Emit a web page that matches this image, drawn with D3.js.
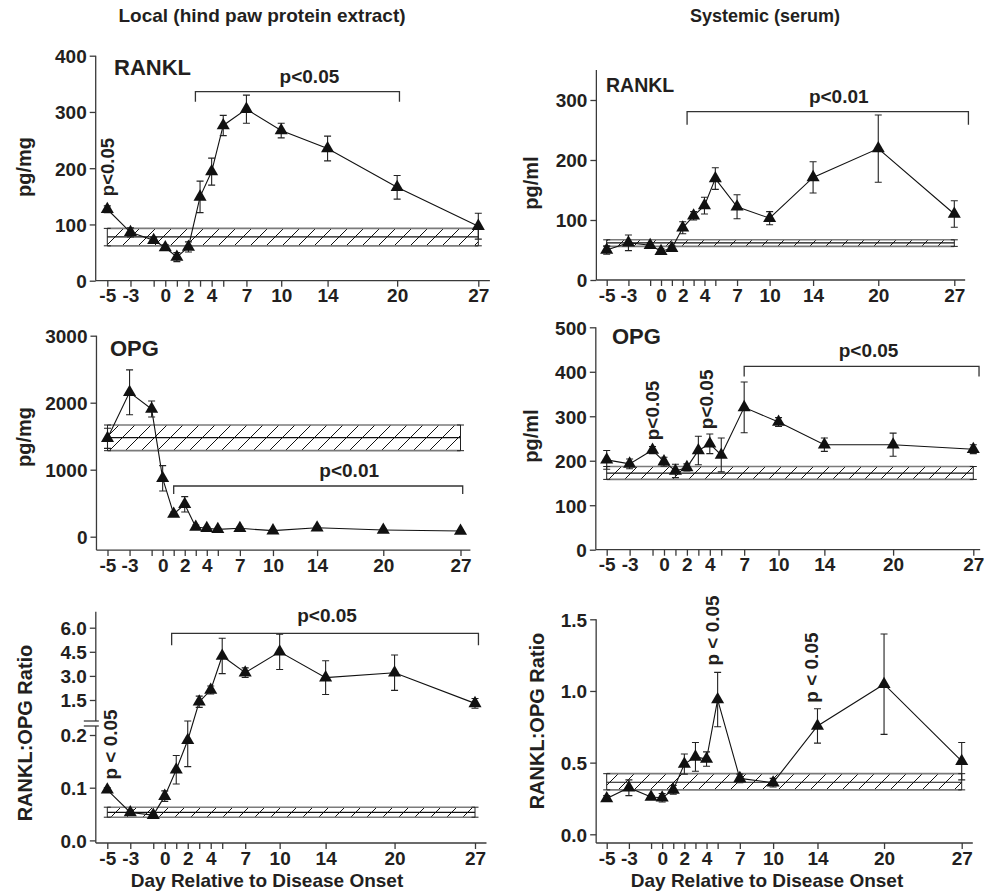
<!DOCTYPE html>
<html><head><meta charset="utf-8">
<script src="https://cdn.jsdelivr.net/npm/d3@7"></script>
<style>
body{margin:0;background:#fff;}
svg text{font-family:"Liberation Sans",Arial,Helvetica,sans-serif;font-weight:bold;}
</style></head><body>
<svg id="c" width="992" height="896"></svg>
<script>
// ---------- data ----------
const days = [-5,-3,-1,0,1,2,3,4,5,7,10,14,20,27];
const dayLabels = [-5,-3,0,2,4,7,10,14,20,27];

const rankLocal    = [127,86,72,59,42,60,149,194,276,305,267,235,166,97];
const rankLocalErr = [6,8,5,5,8,9,28,24,18,25,13,22,21,23];
const rankLocalBand = [62,78,93];
const rankLocalTicks = [0,100,200,300,400];

const rankSerum    = [50,62,58,48,53,87,107,124,169,122,103,171,219,110];
const rankSerumErr = [7,13,4,4,4,10,7,14,18,20,11,26,56,22];
const rankSerumBand = [56,62,67];
const rankSerumTicks = [0,100,200,300];

const opgLocal    = [1469,2155,1906,871,339,483,145,125,110,125,90,134,100,85];
const opgLocalErr = [150,335,120,190,30,115,30,20,15,20,15,20,15,15];
const opgLocalBand = [1284,1478,1667];
const opgLocalTicks = [0,1000,2000,3000];

const opgSerum    = [202,193,224,198,177,185,223,238,213,320,287,236,236,226];
const opgSerumErr = [21,11,8,10,15,8,32,22,38,57,10,15,26,10];
const opgSerumBand = [158,172,187];
const opgSerumTicks = [0,100,200,300,400,500];

const ratioLocal    = [0.096,0.053,0.048,0.084,0.134,0.19,1.39,2.12,4.24,3.2,4.5,2.89,3.2,1.29];
const ratioLocalErr = [0.004,0.005,0.004,0.01,0.027,0.05,0.35,0.25,1.1,0.3,1.1,1.05,1.1,0.3];
const ratioLocalBand = [0.044,0.053,0.063];
const ratioLocalTicksLow = [0.0,0.1,0.2];
const ratioLocalTicksHigh = [1.5,3.0,4.5,6.0];

const ratioSerum    = [0.25,0.325,0.26,0.255,0.31,0.49,0.54,0.525,0.94,0.39,0.36,0.756,1.047,0.51];
const ratioSerumErr = [0.02,0.055,0.01,0.03,0.03,0.07,0.1,0.05,0.19,0.03,0.03,0.12,0.35,0.13];
const ratioSerumBand = [0.31,0.363,0.423];
const ratioSerumTicks = [0.0,0.5,1.0,1.5];

// ---------- drawing ----------
const svg = d3.select("#c");
const INK = "#231f20", AX = "#3a3a3a", FONT = "'Liberation Sans', Arial, Helvetica, sans-serif";
svg.append("defs").append("pattern").attr("id","hatch")
  .attr("patternUnits","userSpaceOnUse").attr("width",16).attr("height",16)
  .append("path").attr("d","M-4,4 L4,-4 M0,16 L16,0 M12,20 L20,12")
  .attr("stroke","#111").attr("stroke-width",1);

function txt(sel){ return sel.attr("font-family",FONT).attr("font-weight","bold").attr("fill",INK); }

function panel(c){
  const g = svg.append("g");
  const x = d3.scaleLinear().domain([-5,27]).range(c.xr);
  const xa = x.copy().domain(c.xd).range([x(c.xd[0]), x(c.xd[1])]);
  const y = c.y;
  const yBase = c.xAxisY;

  // band
  const b = c.band;
  g.append("rect").attr("x",x(-5)).attr("width",x(27)-x(-5))
    .attr("y",y(b[2])).attr("height",y(b[0])-y(b[2])).attr("fill","url(#hatch)");
  [[b[0],"#7a7a7a",1.6],[b[2],"#7a7a7a",1.6],[b[1],"#111",1.2]].forEach(([v,col,w])=>{
    g.append("line").attr("x1",x(-5)).attr("x2",x(27)).attr("y1",y(v)).attr("y2",y(v))
      .attr("stroke",col).attr("stroke-width",w);
  });
  [-5,27].forEach(d=>{
    const px=x(d);
    g.append("path").attr("d",`M${px},${y(b[0])}V${y(b[2])}M${px-3.5},${y(b[0])}h7M${px-3.5},${y(b[2])}h7`)
      .attr("stroke","#222").attr("stroke-width",1).attr("fill","none");
  });

  // axes
  const xAxis = d3.axisBottom(xa).tickValues(days).tickSize(6).tickSizeOuter(0)
    .tickFormat(d=>dayLabels.includes(d)?d:"");
  const gx = g.append("g").attr("transform",`translate(0,${yBase})`).call(xAxis);
  gx.attr("font-family",null).attr("font-size",null);
  txt(gx.selectAll("text")).attr("font-size",19).attr("dy","0.72em").attr("y",8);
  gx.selectAll("path,line").attr("stroke",AX).attr("stroke-width",1.3);
  gx.select(".domain").attr("d",`M${xa.range()[0]},0H${xa.range()[1]}`);

  c.yAxes.forEach(a=>{
    const ax = d3.axisLeft(a.scale).tickValues(a.ticks).tickSize(6).tickSizeOuter(0).tickFormat(a.fmt||(d=>d));
    const gy = g.append("g").attr("transform",`translate(${xa.range()[0]},0)`).call(ax);
    gy.attr("font-family",null).attr("font-size",null);
    txt(gy.selectAll("text")).attr("font-size",19).attr("x",-9).attr("dy","0.36em");
    gy.selectAll("path,line").attr("stroke",AX).attr("stroke-width",1.3);
    gy.select(".domain").attr("d",`M0,${a.from}V${a.to}`);
  });
  if(c.breakMarks){
    c.breakMarks.forEach(py=>{
      g.append("line").attr("x1",xa.range()[0]-12).attr("x2",xa.range()[0]+3).attr("y1",py).attr("y2",py)
        .attr("stroke",AX).attr("stroke-width",1.3);
    });
  }

  // series line
  const pts = days.map((d,i)=>[x(d), y(c.vals[i])]);
  g.append("path").attr("d",d3.line()(pts)).attr("fill","none").attr("stroke","#111").attr("stroke-width",1.1);
  // error bars
  days.forEach((d,i)=>{
    const px=x(d), v=c.vals[i], e=c.errs[i];
    const top=y(c.clipTop?Math.min(v+e, c.clipTop(v)):v+e), bot=y(v-e);
    g.append("path").attr("d",`M${px},${bot}V${top}M${px-3.5},${top}h7M${px-3.5},${bot}h7`)
      .attr("stroke","#222").attr("stroke-width",1.1).attr("fill","none");
  });
  g.selectAll(".tri").data(days).enter().append("path")
    .attr("transform",(d,i)=>`translate(${x(d)},${y(c.vals[i])})`)
    .attr("d",d3.symbol().type(d3.symbolTriangle).size(74)()).attr("fill","#111");

  // brackets
  (c.brackets||[]).forEach(br=>{
    const py=y(br.v), x1=x(br.d0), x2=x(br.d1);
    g.append("path").attr("d",`M${x1},${py+br.tick}V${py}H${x2}V${py+br.tick}`)
      .attr("fill","none").attr("stroke","#333").attr("stroke-width",1.3);
    txt(g.append("text")).attr("x",(x1+x2)/2+(br.dx||0)).attr("y",py-br.dy).attr("text-anchor","middle")
      .attr("font-size",19).text(br.text);
  });
  // vertical labels
  (c.vlabels||[]).forEach(vl=>{
    txt(g.append("text")).attr("transform",`translate(${x(vl.d)+vl.dx},${y(vl.v)}) rotate(-90)`)
      .attr("text-anchor","middle").attr("font-size",vl.fs||19).text(vl.text);
  });
  // panel name
  if(c.name) txt(g.append("text")).attr("x",c.name.x).attr("y",c.name.y).attr("font-size",c.name.fs).text(c.name.t);
  // y label
  txt(g.append("text")).attr("transform",`translate(${c.ylab.x},${c.ylab.y}) rotate(-90)`)
    .attr("text-anchor","middle").attr("font-size",c.ylab.fs||20).text(c.ylab.t);
}

// top-left
{
  const y = d3.scaleLinear().domain([0,400]).range([280.7,55.7]);
  panel({xr:[107.3,478.3], xd:[-6,28], y, xAxisY:y(0), vals:rankLocal, errs:rankLocalErr, band:rankLocalBand,
    yAxes:[{scale:y,ticks:rankLocalTicks,from:y(0),to:y(400)}],
    brackets:[{d0:2.6,d1:20.2,v:336,tick:10,dy:9,dx:12,text:"p<0.05"}],
    vlabels:[{d:-5,v:202,dx:7,fs:18.5,text:"p<0.05"}],
    name:{x:114,y:75,fs:22,t:"RANKL"}, ylab:{x:31,y:167,t:"pg/mg"}});
}
// top-right
{
  const y = d3.scaleLinear().domain([0,350]).range([280,70]);
  panel({xr:[606.7,954.3], xd:[-5.95,28], y, xAxisY:y(0), vals:rankSerum, errs:rankSerumErr, band:rankSerumBand,
    yAxes:[{scale:y,ticks:rankSerumTicks,from:y(0),to:y(350)}],
    brackets:[{d0:2.4,d1:28.3,v:280.5,tick:13,dy:8.5,dx:11,text:"p<0.01"}],
    name:{x:606,y:92,fs:19.5,t:"RANKL"}, ylab:{x:538,y:183,t:"pg/ml"}});
}
// mid-left
{
  const y = d3.scaleLinear().domain([-200,3000]).range([550.1,335.7]);
  panel({xr:[107.5,460.5], xd:[-6,27.9], y, xAxisY:y(-200), vals:opgLocal, errs:opgLocalErr, band:opgLocalBand,
    yAxes:[{scale:y,ticks:opgLocalTicks,from:y(-200),to:y(3000)}],
    brackets:[{d0:1,d1:27.2,v:757,tick:8,dy:9.3,dx:31,text:"p<0.01"}],
    name:{x:110,y:356,fs:22,t:"OPG"}, ylab:{x:31,y:437,t:"pg/mg"}});
}
// mid-right
{
  const y = d3.scaleLinear().domain([0,500]).range([549.7,327.3]);
  panel({xr:[606.7,973.3], xd:[-5.95,27.6], y, xAxisY:y(0), vals:opgSerum, errs:opgSerumErr, band:opgSerumBand,
    yAxes:[{scale:y,ticks:opgSerumTicks,from:y(0),to:y(500)}],
    brackets:[{d0:7,d1:27.5,v:412,tick:10,dy:9,dx:7,text:"p<0.05"}],
    vlabels:[{d:-1,v:313,dx:6,text:"p<0.05"},{d:4,v:338,dx:3,text:"p<0.05"}],
    name:{x:612,y:344,fs:22,t:"OPG"}, ylab:{x:538,y:436,t:"pg/ml"}});
}
// bottom-left (broken axis)
{
  const yU = d3.scaleLinear().domain([0,6]).range([724.1,627.7]);
  const yL = d3.scaleLinear().domain([0,0.2]).range([840.4,735]);
  const y = v => v>0.5 ? yU(v) : yL(v);
  const xAxisY = 843;
  panel({xr:[107.3,475], xd:[-6,28], y, xAxisY, vals:ratioLocal, errs:ratioLocalErr, band:ratioLocalBand,
    clipTop: v => v>0.5 ? 99 : yL.invert(721),
    yAxes:[{scale:yU,ticks:ratioLocalTicksHigh,from:721,to:611.7,fmt:d3.format(".1f")},
           {scale:yL,ticks:ratioLocalTicksLow,from:xAxisY,to:726,fmt:d3.format(".1f")}],
    breakMarks:[721,726],
    brackets:[{d0:0.6,d1:27.3,v:5.65,tick:12,dy:11.6,dx:2,text:"p<0.05"}],
    vlabels:[{d:-5,v:0.182,dx:10,text:"p < 0.05"}],
    ylab:{x:32,y:733,t:"RANKL:OPG Ratio"}});
}
// bottom-right
{
  const y = d3.scaleLinear().domain([0,1.5]).range([834.3,619.3]);
  const xAxisY = 843;
  panel({xr:[606.7,961.7], xd:[-5.95,28], y, xAxisY, vals:ratioSerum, errs:ratioSerumErr, band:ratioSerumBand,
    yAxes:[{scale:y,ticks:ratioSerumTicks,from:xAxisY,to:y(1.5),fmt:d3.format(".1f")}],
    vlabels:[{d:5,v:1.422,dx:1,text:"p < 0.05"},{d:14,v:1.163,dx:1,text:"p < 0.05"}],
    ylab:{x:544,y:721,t:"RANKL:OPG Ratio"}});
}
// titles
txt(svg.append("text")).attr("x",262).attr("y",22).attr("text-anchor","middle").attr("font-size",19)
  .text("Local (hind paw protein extract)");
txt(svg.append("text")).attr("x",765).attr("y",22).attr("text-anchor","middle").attr("font-size",18)
  .text("Systemic (serum)");
txt(svg.append("text")).attr("x",267).attr("y",887).attr("text-anchor","middle").attr("font-size",19)
  .text("Day Relative to Disease Onset");
txt(svg.append("text")).attr("x",767).attr("y",887).attr("text-anchor","middle").attr("font-size",19)
  .text("Day Relative to Disease Onset");
</script></body></html>
